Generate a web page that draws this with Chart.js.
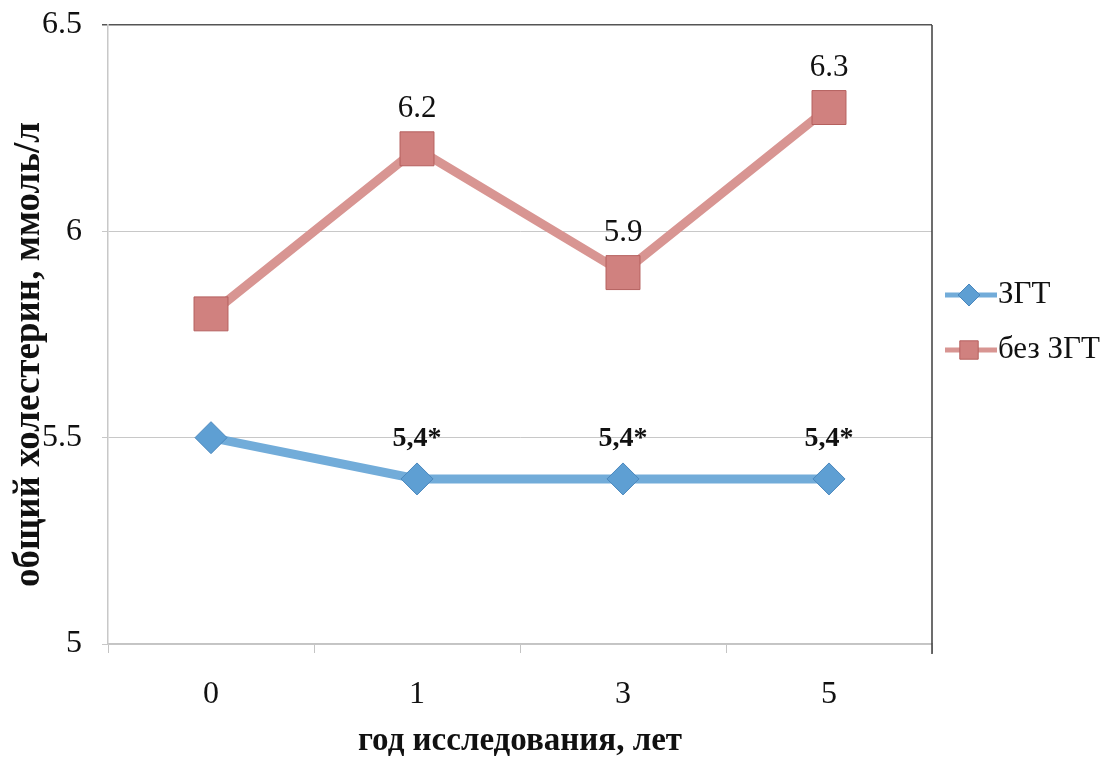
<!DOCTYPE html>
<html>
<head>
<meta charset="utf-8">
<script src="https://cdn.jsdelivr.net/npm/chart.js@4"></script>
<style>
  html, body { margin: 0; padding: 0; background: #ffffff; }
  #wrap { width: 1117px; height: 761px; position: relative; }
</style>
</head>
<body>
<div id="wrap"><canvas id="chart" width="1117" height="761"></canvas></div>
<script>
// Study years (x categories)
const years = ['0', '1', '3', '5'];

// Total cholesterol, mmol/L
const withHRT = [5.5, 5.4, 5.4, 5.4];     // ЗГТ
const withoutHRT = [5.8, 6.2, 5.9, 6.3];  // без ЗГТ

// Which points carry a value label, and the significance mark for the HRT group
const labeledPoints = [false, true, true, true];
const significanceMark = '*';

// Y axis range and step
const yMin = 5, yMax = 6.5, yStep = 0.5;

const seriesNames = ['ЗГТ', 'без ЗГТ'];
const xTitle = 'год исследования, лет';
const yTitle = 'общий холестерин, ммоль/л';

const SERIF = '"Liberation Serif", "Times New Roman", serif';

// Value labels above points
const valueLabels = {
  id: 'valueLabels',
  afterDatasetsDraw(chart) {
    const ctx = chart.ctx;
    ctx.save();
    ctx.textAlign = 'center';
    ctx.textBaseline = 'middle';
    ctx.fillStyle = '#111111';
    chart.data.datasets.forEach((ds, di) => {
      const meta = chart.getDatasetMeta(di);
      meta.data.forEach((pt, i) => {
        if (!labeledPoints[i]) return;
        const v = ds.data[i];
        let text;
        if (ds.labelStyle === 'comma') {
          text = v.toFixed(1).replace('.', ',') + significanceMark;
          ctx.font = 'bold 28px ' + SERIF;
        } else {
          text = v.toFixed(1);
          ctx.font = '31px ' + SERIF;
        }
        ctx.fillText(text, pt.x, pt.y - 40);
      });
    });
    ctx.restore();
  }
};

// Right-hand frame line of the plot area
const frameRight = {
  id: 'frameRight',
  beforeDatasetsDraw(chart) {
    const { ctx, chartArea } = chart;
    ctx.save();
    ctx.strokeStyle = '#3c3c3c';
    ctx.lineWidth = 1.5;
    ctx.beginPath();
    ctx.moveTo(chartArea.right, chartArea.top);
    ctx.lineTo(chartArea.right, chartArea.bottom + 10);
    ctx.stroke();
    ctx.restore();
  }
};

// Vertical axis title, rotated, sitting a little below the plot centre
const yAxisTitle = {
  id: 'yAxisTitle',
  afterDraw(chart) {
    const { ctx, chartArea } = chart;
    const cy = (chartArea.top + chartArea.bottom) / 2 + 20;
    ctx.save();
    ctx.translate(29, cy);
    ctx.rotate(-Math.PI / 2);
    ctx.fillStyle = '#111111';
    ctx.font = 'bold 37px ' + SERIF;
    ctx.textAlign = 'center';
    ctx.textBaseline = 'middle';
    ctx.fillText(yTitle, 0, 0);
    ctx.restore();
  }
};

// Legend with line + marker samples
const lineLegend = {
  id: 'lineLegend',
  afterDraw(chart) {
    const ctx = chart.ctx;
    const x0 = chart.chartArea.right + 13;
    const rows = [295, 350];
    ctx.save();
    chart.data.datasets.forEach((ds, di) => {
      const y = rows[di];
      ctx.strokeStyle = ds.borderColor;
      ctx.lineWidth = 5;
      ctx.beginPath();
      ctx.moveTo(x0, y);
      ctx.lineTo(x0 + 52, y);
      ctx.stroke();
      ctx.fillStyle = ds.pointBackgroundColor;
      ctx.strokeStyle = ds.pointBorderColor;
      ctx.lineWidth = 1;
      Chart.helpers.drawPoint(ctx, {
        pointStyle: ds.pointStyle,
        radius: ds.pointStyle === 'rect' ? 13 : 11,
        rotation: 0,
        borderWidth: 1
      }, x0 + 24, y);
      ctx.fillStyle = '#111111';
      ctx.font = '31px ' + SERIF;
      ctx.textAlign = 'left';
      ctx.textBaseline = 'middle';
      ctx.fillText(ds.label, x0 + 53, y);
    });
    ctx.restore();
  }
};

new Chart(document.getElementById('chart'), {
  type: 'line',
  data: {
    labels: years,
    datasets: [
      {
        label: seriesNames[0],
        data: withHRT,
        borderColor: '#72acd9',
        borderWidth: 9,
        pointStyle: 'rectRot',
        pointRadius: 16,
        pointHoverRadius: 16,
        pointBackgroundColor: '#5e9fd3',
        pointBorderColor: '#4a87bd',
        pointBorderWidth: 1,
        labelStyle: 'comma'
      },
      {
        label: seriesNames[1],
        data: withoutHRT,
        borderColor: '#d89592',
        borderWidth: 9,
        pointStyle: 'rect',
        pointRadius: 24,
        pointHoverRadius: 24,
        pointBackgroundColor: '#d0817f',
        pointBorderColor: '#b5605e',
        pointBorderWidth: 1,
        labelStyle: 'dot'
      }
    ]
  },
  options: {
    responsive: false,
    animation: false,
    layout: { padding: { left: 0, right: 185, top: 20, bottom: 0 } },
    plugins: {
      legend: { display: false },
      tooltip: { enabled: false }
    },
    scales: {
      x: {
        offset: true,
        grid: {
          offset: true,
          drawOnChartArea: false,
          drawTicks: true,
          tickLength: 9,
          color: '#c4c4c4'
        },
        border: { color: '#c4c4c4', width: 1.5 },
        ticks: {
          color: '#111111',
          padding: 22,
          font: { family: SERIF, size: 32 }
        },
        title: {
          display: true,
          text: xTitle,
          color: '#111111',
          font: { family: SERIF, size: 33, weight: 'bold' },
          padding: { top: 0, bottom: 0 }
        },
        afterFit(scale) { scale.height = 117; }
      },
      y: {
        min: yMin,
        max: yMax,
        ticks: {
          stepSize: yStep,
          color: '#111111',
          padding: 20,
          font: { family: SERIF, size: 32, lineHeight: 1.0 },
          callback: (v) => String(v)
        },
        grid: {
          tickLength: 6,
          lineWidth: (c) => (c.tick && c.tick.value === yMax ? 1.5 : 1),
          color: (c) => (c.tick && c.tick.value === yMax ? '#555555' : '#c8c8c8')
        },
        border: { color: '#c8c8c8', width: 1.5 },
        afterFit(scale) {
          scale.width = 108;
          scale.paddingTop = 0;
          scale.paddingBottom = 0;
        }
      }
    }
  },
  plugins: [frameRight, valueLabels, yAxisTitle, lineLegend]
});
</script>
</body>
</html>
